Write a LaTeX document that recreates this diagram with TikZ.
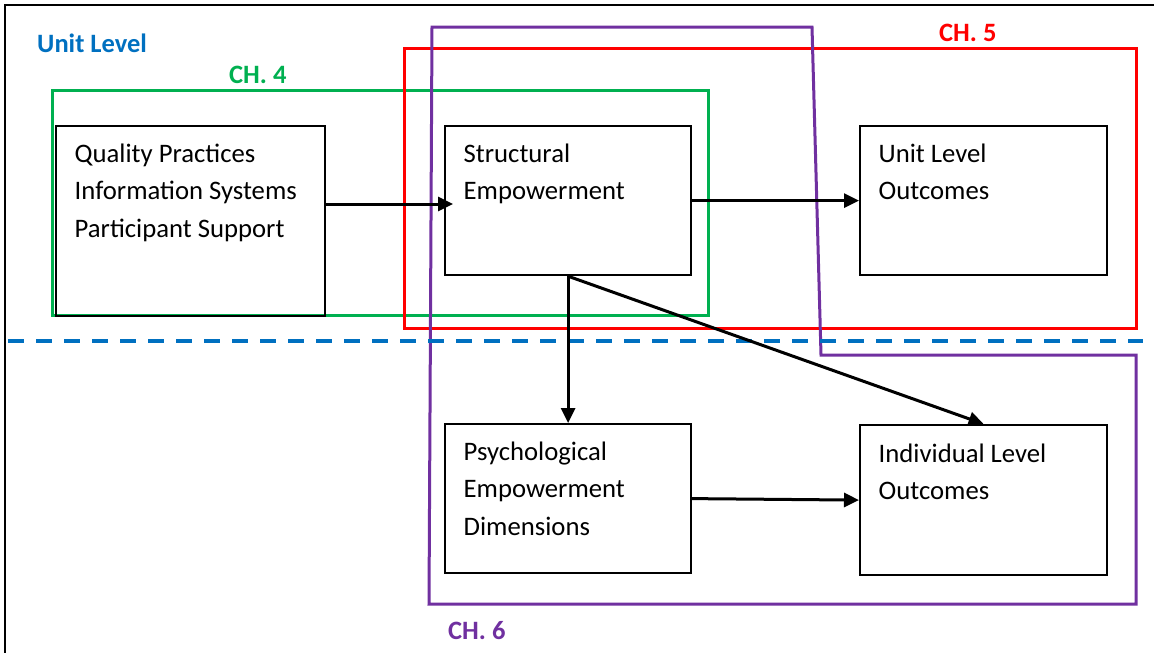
\documentclass[tikz,border=0pt]{standalone}
\usepackage{fontspec}
\setmainfont{Carlito}
\usetikzlibrary{arrows.meta}
\definecolor{cblue}{HTML}{0070C0}
\definecolor{cgreen}{HTML}{00B050}
\definecolor{cred}{HTML}{FF0000}
\definecolor{cpurple}{HTML}{7030A0}
\tikzset{
  box/.style={draw=black, line width=2.2pt, inner sep=0pt, anchor=north west},
  txt/.style={align=left, inner sep=0pt, anchor=north west, font=\fontsize{26.7}{37.5}\selectfont},
  lbl/.style={inner sep=0pt, anchor=base west, font=\fontsize{26.5}{30}\selectfont\bfseries},
  arr/.style={line width=3pt, -{Triangle[length=15pt,width=14pt]}},
  frame/.style={line width=3pt},
}
\begin{document}
\begin{tikzpicture}[x=1pt,y=-1pt]
\useasboundingbox (0,0) rectangle (1154,653);
% outer frame
\draw[line width=2.5pt] (5,660) -- (5,5) -- (1160,5);
% chapter frames
\draw[frame, cgreen] (52,90) rectangle (708,315);
\draw[frame, cred] (404,48) rectangle (1136,328);
\draw[frame, cpurple] (432,27) -- (812,27) -- (821,355) -- (1136,355) -- (1136,604) -- (429,604) -- cycle;
% dashed unit-level separator
\draw[cblue, line width=4pt, dash pattern=on 16pt off 12pt] (8,341) -- (1143,341);
% labels
\node[lbl, text=cblue] (ul) at (37,52) {Unit Level};
\node[lbl, text=cgreen] (ch4) at (229,83) {CH. 4};
\node[lbl, text=cred] (ch5) at (939,41) {CH. 5};
\node[lbl, text=cpurple] (ch6) at (448,639) {CH. 6};
% boxes
\node[box, minimum width=269pt, minimum height=190pt] (A) at (55,125) {};
\node[box, minimum width=246pt, minimum height=149pt] (B) at (444,125) {};
\node[box, minimum width=247pt, minimum height=149pt] (C) at (859,125) {};
\node[box, minimum width=246pt, minimum height=149pt] (D) at (444,423) {};
\node[box, minimum width=247pt, minimum height=150pt] (E) at (859,424) {};
% box texts
\node[txt] (At) at ([shift={(19.5,18.5)}]A.north west) {Quality Practices\\Information Systems\\Participant Support};
\node[txt] (Bt) at ([shift={(19.5,18.5)}]B.north west) {Structural\\Empowerment};
\node[txt] (Ct) at ([shift={(19.5,18.5)}]C.north west) {Unit Level\\Outcomes};
\node[txt] (Dt) at ([shift={(19.5,18.5)}]D.north west) {Psychological\\Empowerment\\Dimensions};
\node[txt] (Et) at ([shift={(19.5,19.5)}]E.north west) {Individual Level\\Outcomes};
% connectors
\coordinate (abEnd) at ([xshift=9pt]B.west |- 0,204);
\draw[arr] (A.east |- 0,204) -- (abEnd);
\draw[arr] (B.east) -- (C.west);
\draw[arr] (B.south) -- (D.north);
\draw[arr] (B.south) -- (E.north);
\draw[arr] (D.east) -- (E.west);
\end{tikzpicture}
\end{document}
